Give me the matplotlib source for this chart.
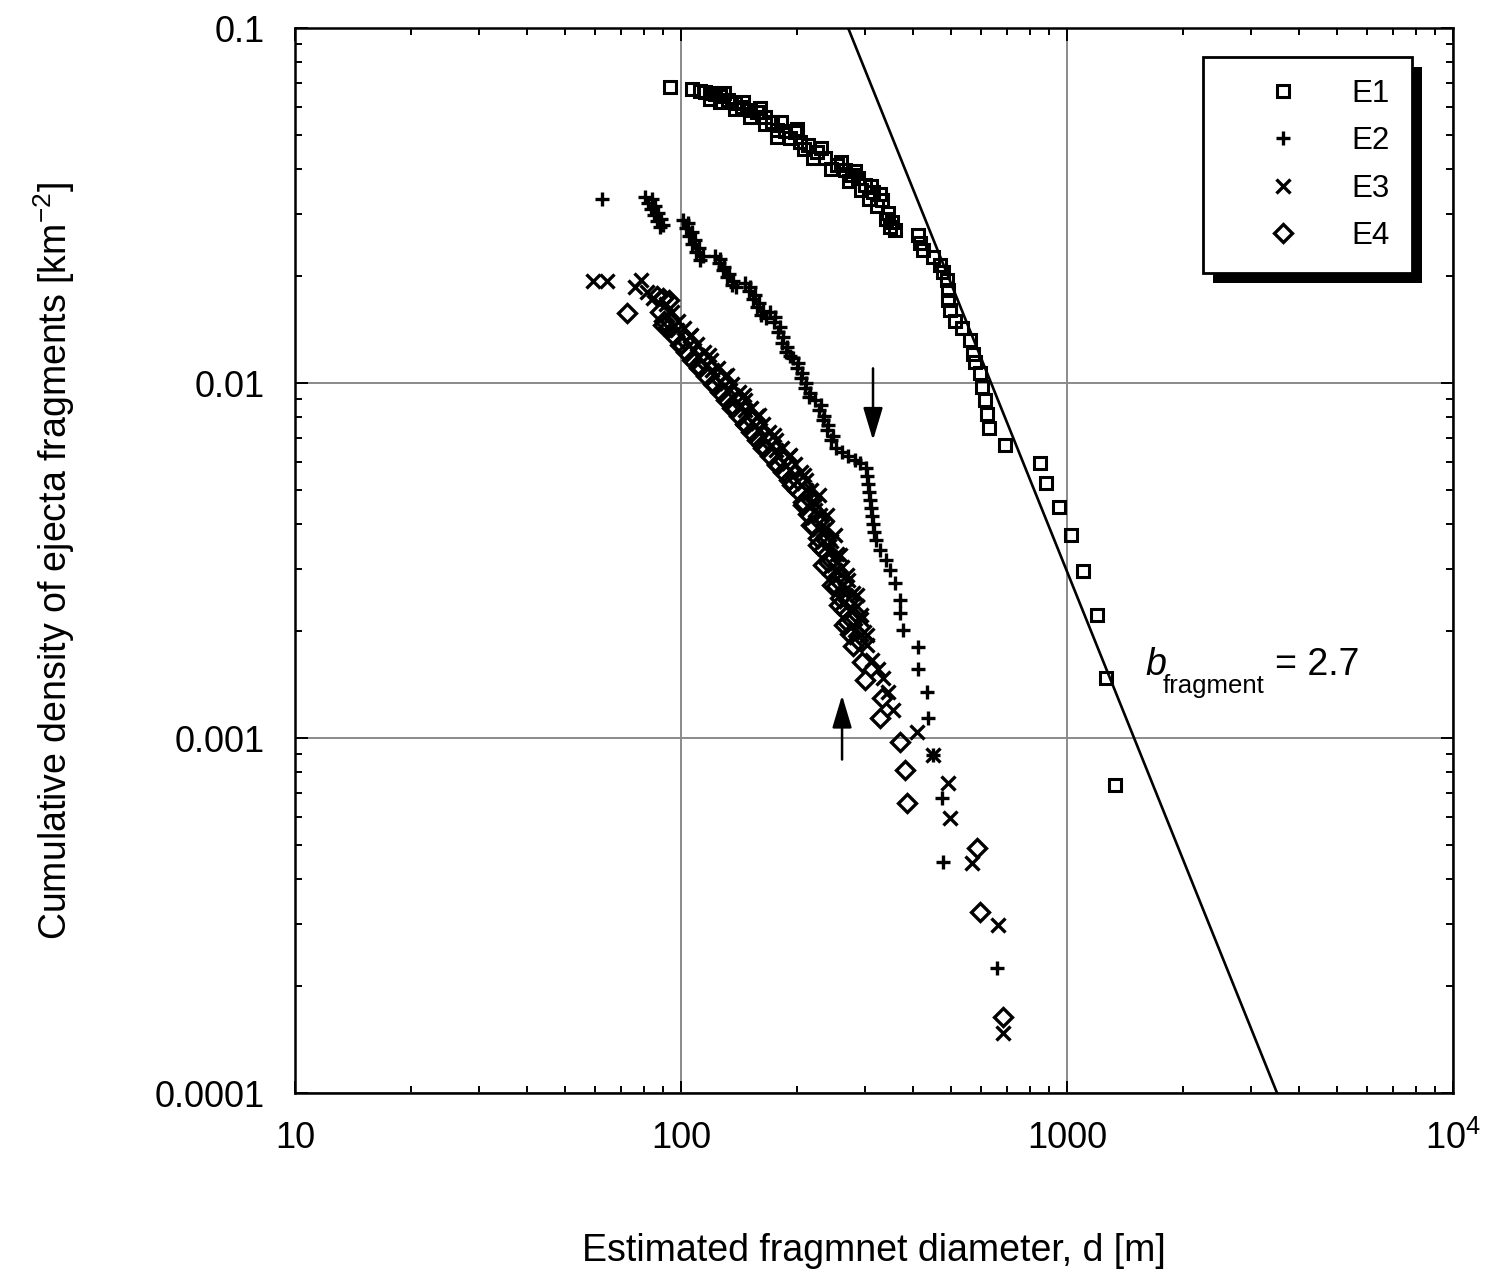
import numpy as np
import matplotlib
matplotlib.use("Agg")
import matplotlib.pyplot as plt
from matplotlib.ticker import LogLocator, NullFormatter
from matplotlib.patches import Rectangle

plt.rcParams['font.family'] = ['Liberation Sans', 'DejaVu Sans']
plt.rcParams['mathtext.fontset'] = 'custom'
plt.rcParams['mathtext.rm'] = 'Liberation Sans'
plt.rcParams['mathtext.it'] = 'Liberation Sans:italic'

# fragment diameter [m] and cumulative density [km^-2] per ejecta field
e1_d = [93.7, 106.8, 112, 115.4, 118.9, 122.5, 126.2, 132.4, 138.0, 143.9,
        151, 157.4, 165.1, 172.1, 177.3, 186, 197.4, 203.4, 213.3, 225.0,
        236.1, 253.6, 266, 277.3, 287.4, 299.7, 314.3, 331.7, 343.8, 352.1,
        358.5, 411.1, 416, 423.7, 449.7, 468.8, 477.3, 489, 491.9, 491.9,
        497.7, 512.8, 534.6, 560.8, 571, 577.9, 595.2, 602.4, 613.3, 620.6,
        628, 690.8, 851, 882.3, 953.5, 1024, 1100, 1196, 1262, 1332,
        118.9, 126.2, 138.0, 151, 165.1, 177.3, 191.6, 208, 220, 245,
        272, 293, 306, 322, 340, 348,
        129, 145, 160, 182, 200, 230, 260, 283, 310, 328]
e1_n = [0.0682, 0.0674, 0.0665, 0.0660, 0.0656, 0.0652, 0.0643, 0.0627, 0.0615, 0.0599,
        0.0588, 0.0580, 0.0561, 0.0543, 0.0516, 0.0513, 0.0509, 0.0477, 0.0468, 0.0447,
        0.0430, 0.0411, 0.0398, 0.0385, 0.0378, 0.0361, 0.0345, 0.0328, 0.0301, 0.0284,
        0.0270, 0.0261, 0.0248, 0.0237, 0.0226, 0.0215, 0.0205, 0.0195, 0.0183, 0.0171,
        0.0161, 0.0150, 0.0143, 0.0132, 0.0121, 0.0115, 0.0107, 0.00974, 0.00896, 0.00818,
        0.00747, 0.00669, 0.00595, 0.00523, 0.00447, 0.00373, 0.00295, 0.00222, 0.00148, 0.000737,
        0.0630, 0.0617, 0.0590, 0.0563, 0.0538, 0.0494, 0.0490, 0.0455, 0.0430, 0.0400,
        0.0370, 0.0350, 0.0330, 0.0315, 0.0290, 0.0275,
        0.0655, 0.0620, 0.0595, 0.0545, 0.0520, 0.0460, 0.0420, 0.0395, 0.0360, 0.0340]

e2_d = [62.4, 80.7, 82.1, 83.6, 85.1, 86.7, 88.2, 101.2, 103.0, 104.9,
        106.8, 109.4, 112, 122.5, 125.4, 128.5, 131.6, 135.6, 146.5, 150.1,
        153.7, 157.4, 161.2, 170.1, 174.2, 178.4, 182.7, 187.1, 195.1, 199.8,
        204.6, 209.5, 214.6, 222.4, 227.8, 233.4, 238.9, 244.7, 252.1, 261.3,
        270.8, 282.3, 290.9, 301.5, 303.3, 305.1, 306.9, 308.8, 310.6, 312.5,
        314.3, 316.2, 320, 327.8, 339.7, 347.9, 358.5, 369.3, 369.3, 375.9,
        411.1, 411.1, 433.8, 436.4, 449.7, 474.5, 477.3, 658.8,
        84.0, 85.5, 87.0, 88.5, 90.0, 104.5, 106.5, 108.5, 111, 114,
        126.5, 129.5, 133, 136.5, 139, 151, 155, 159, 163, 166,
        175.5, 180, 184, 188.5, 191, 201, 206, 211, 216, 230,
        235, 241, 247]
e2_n = [0.0330, 0.0334, 0.0321, 0.0309, 0.0297, 0.0286, 0.0275, 0.02878, 0.0273, 0.0260,
        0.0246, 0.0234, 0.0222, 0.0228, 0.0218, 0.0208, 0.0199, 0.0189, 0.0191, 0.0182,
        0.0172, 0.0164, 0.0155, 0.01585, 0.01485, 0.0139, 0.0130, 0.0122, 0.01176, 0.01102,
        0.01033, 0.00968, 0.00913, 0.00896, 0.00839, 0.00787, 0.00737, 0.00691, 0.00656, 0.00639,
        0.00623, 0.00607, 0.00595, 0.00576, 0.00547, 0.00519, 0.00493, 0.00468, 0.00445, 0.00422,
        0.00401, 0.00380, 0.00361, 0.00338, 0.00317, 0.00297, 0.00273, 0.00245, 0.00225, 0.00201,
        0.00180, 0.00157, 0.00135, 0.00114, 0.000896, 0.000678, 0.000447, 0.000225,
        0.0330, 0.0315, 0.0302, 0.0290, 0.0279, 0.0283, 0.0267, 0.0253, 0.0240, 0.0228,
        0.0223, 0.0212, 0.0203, 0.0194, 0.0186, 0.0186, 0.0177, 0.0168, 0.0160, 0.0152,
        0.0153, 0.0144, 0.0135, 0.0126, 0.0119, 0.0114, 0.0107, 0.0100, 0.0094, 0.0087,
        0.0081, 0.0076, 0.0071]

e3_d = [59.2, 64.3, 76.0, 78.8, 81.7, 84.6, 91.4, 94.8, 98.2, 101.8,
        105.5, 110, 114.7, 119.6, 124.7, 130.0, 135.6, 141.3, 146.5, 151.8,
        157.4, 163.1, 169.0, 176.2, 182.7, 190.5, 197.4, 204.6, 210.8, 217.2,
        221.1, 229.2, 237.5, 244.7, 253.6, 261.3, 270.8, 279, 285.8, 292.7,
        297.9, 303.3, 312.5, 324, 333.8, 343.8, 354.2, 408.7, 449.7, 491.9,
        497.7, 567.6, 662.6, 682.6,
        97.6, 108.1, 120.3, 134, 146.5, 160.2, 176.2, 191.6, 210.8, 222.4,
        233.4, 241.7, 250.6, 266, 274.1, 282.3,
        106.2, 117.9, 131.3, 145.8, 158.9, 174.3, 191.2, 208.5, 227.2, 239,
        250.1, 258.3, 268.5, 285, 292.8, 302.7]
e3_n = [0.0194, 0.0194, 0.0186, 0.0195, 0.0180, 0.0174, 0.0167, 0.01585, 0.0150, 0.0143,
        0.01357, 0.01288, 0.0122, 0.0116, 0.01102, 0.01046, 0.00994, 0.00943, 0.00896, 0.00850,
        0.00807, 0.00766, 0.00728, 0.00691, 0.00656, 0.00623, 0.00591, 0.00561, 0.00533, 0.00500,
        0.00462, 0.00425, 0.00390, 0.00359, 0.00330, 0.00303, 0.00279, 0.00256, 0.00235, 0.00216,
        0.00199, 0.00183, 0.00166, 0.00157, 0.00148, 0.00135, 0.00120, 0.00104, 0.000896, 0.000746,
        0.000595, 0.000444, 0.000297, 0.000148,
        0.0141, 0.0124, 0.0109, 0.00956, 0.00839, 0.00737, 0.00648, 0.00569, 0.00500, 0.00439,
        0.00385, 0.00338, 0.00297, 0.00261, 0.00229, 0.00201,
        0.01365, 0.01199, 0.01053, 0.00925, 0.00813, 0.00714, 0.00627, 0.00551, 0.00484, 0.00425,
        0.00373, 0.00328, 0.00288, 0.00253, 0.00222, 0.00195]

e4_d = [72.5, 86.7, 89.8, 93.1, 88.2, 90.4, 92.5, 95.9, 100, 103.0,
        106.8, 111.3, 116.1, 121, 126.2, 130.9, 135.6, 141.3, 146.5, 151.8,
        157.4, 163.1, 170.1, 177.3, 183.8, 190.5, 199.8, 207, 213.3, 219.8,
        226.4, 233.4, 240.3, 246.2, 252.1, 258.2, 264.4, 269.2, 274.1, 279,
        294.3, 299.7, 331.7, 327.8, 369.3, 380.5, 385, 584.6, 595.2, 682.6,
        93.7, 102.4, 114, 126.9, 140.5, 152.7, 168, 183.8, 201, 217.2,
        227.8, 237.5, 244.7, 255.1, 270.8, 277.3, 287.4,
        89.8, 99.1, 110.4, 122.8, 135.2, 147.3, 162.1, 176.8, 193.9, 207.1,
        217.2, 225.8, 233.3, 245.4, 256.7, 263.7]
e4_n = [0.0158, 0.0176, 0.0174, 0.0171, 0.01585, 0.0150, 0.0143, 0.01357, 0.01288, 0.0122,
        0.0116, 0.01102, 0.01046, 0.00994, 0.00943, 0.00896, 0.00850, 0.00807, 0.00766, 0.00728,
        0.00691, 0.00656, 0.00623, 0.00591, 0.00561, 0.00533, 0.00500, 0.00462, 0.00428, 0.00396,
        0.00366, 0.00338, 0.00313, 0.00290, 0.00268, 0.00248, 0.00229, 0.00212, 0.00196, 0.00182,
        0.00164, 0.00146, 0.00130, 0.00114, 0.000974, 0.000813, 0.000656, 0.000490, 0.000324, 0.000164,
        0.0150, 0.0132, 0.0116, 0.0102, 0.00896, 0.00787, 0.00691, 0.00607, 0.00533, 0.00468,
        0.00411, 0.00361, 0.00317, 0.00279, 0.00245, 0.00215, 0.00189,
        0.01456, 0.01279, 0.01124, 0.00987, 0.00867, 0.00762, 0.00669, 0.00588, 0.00516, 0.00453,
        0.00398, 0.00350, 0.00307, 0.00270, 0.00237, 0.00208]

# power-law fit N = C * d^-b, anchored at d = 3500 m, N = 1e-4
b_fragment = 2.7
fit_anchor_d = 3500.0
fit_anchor_n = 1e-4
fit_d = np.array([271.0, 3500.0])

# arrows marking the knee in E2 and E4
arrow_down = (314.3, 0.0110, 0.0069)
arrow_up = (261.3, 0.00087, 0.00132)

x_ticks = [10, 100, 1000, 10000]
x_ticklabels = ['10', '100', '1000', r'$10^4$']
y_ticks = [1e-4, 1e-3, 1e-2, 1e-1]
y_ticklabels = ['0.0001', '0.001', '0.01', '0.1']

fig = plt.figure(figsize=(14.96, 12.75), dpi=100)
ax = fig.add_axes([0.1972, 0.1427, 0.7741, 0.8353])

ax.set_xscale('log')
ax.set_yscale('log')
ax.set_xlim(10, 1e4)
ax.set_ylim(1e-4, 0.1)

mk = dict(linestyle='none', color='black')
ax.plot(e1_d, e1_n, marker='s', ms=8.5, mew=2.2, mfc='none', label='E1', **mk)
ax.plot(e2_d, e2_n, marker='+', ms=10.5, mew=2.4, label='E2', **mk)
ax.plot(e3_d, e3_n, marker='x', ms=10, mew=2.4, label='E3', **mk)
ax.plot(e4_d, e4_n, marker='D', ms=9, mew=2.4, mfc='none', label='E4', **mk)

fit_n = fit_anchor_n * (fit_d / fit_anchor_d) ** (-b_fragment)
ax.plot(fit_d, fit_n, color='black', lw=1.9)

for xa, y0, y1 in (arrow_down, arrow_up):
    ax.annotate('', xy=(xa, y1), xytext=(xa, y0),
                arrowprops=dict(arrowstyle='-|>,head_length=1.0,head_width=0.3',
                                lw=1.8, color='black', shrinkA=0, shrinkB=0,
                                mutation_scale=20))

ax.text(0.734, 0.3925, 'b', style='italic', fontsize=27, transform=ax.transAxes,
        ha='left', va='baseline')
ax.text(0.7496, 0.3756, 'fragment', fontsize=18.5, transform=ax.transAxes,
        ha='left', va='baseline')
ax.text(0.8463, 0.3925, '= 2.7', fontsize=27, transform=ax.transAxes,
        ha='left', va='baseline')

ax.grid(True, which='major', color='#8a8a8a', lw=1.4)
ax.set_axisbelow(True)

ax.set_xticks(x_ticks)
ax.set_xticklabels(x_ticklabels)
ax.set_yticks(y_ticks)
ax.set_yticklabels(y_ticklabels)
ax.xaxis.set_minor_locator(LogLocator(base=10, subs=np.arange(2, 10)))
ax.yaxis.set_minor_locator(LogLocator(base=10, subs=np.arange(2, 10)))
ax.xaxis.set_minor_formatter(NullFormatter())
ax.yaxis.set_minor_formatter(NullFormatter())
ax.tick_params(which='both', direction='in', top=True, right=True, width=1.4)
ax.tick_params(which='major', length=9, labelsize=26)
ax.tick_params(axis='x', which='major', pad=20)
ax.tick_params(axis='y', which='major', pad=22)
ax.tick_params(which='minor', length=5)
for sp in ax.spines.values():
    sp.set_linewidth(1.8)

ax.set_xlabel('Estimated fragmnet diameter, d [m]', fontsize=27, labelpad=55)
ax.set_ylabel(r'Cumulative density of ejecta fragments [km$^{-2}$]', fontsize=27,
              labelpad=56)

leg = ax.legend(loc='upper right', bbox_to_anchor=(0.9646, 0.9728), fontsize=22.5,
                frameon=True, fancybox=False, edgecolor='black', framealpha=1,
                borderpad=0.7, handlelength=3.7, handletextpad=0.35,
                labelspacing=0.56, borderaxespad=0, numpoints=1)
leg.get_frame().set_linewidth(2)
leg.set_zorder(10)

# solid drop shadow behind the legend box
fig.canvas.draw()
bb = leg.get_window_extent()
(x0, y0), (x1, y1) = ax.transAxes.inverted().transform([[bb.x0, bb.y0], [bb.x1, bb.y1]])
dx, dy = 10 / ax.bbox.width, 10 / ax.bbox.height
ax.add_patch(Rectangle((x0 + dx, y0 - dy), x1 - x0, y1 - y0, transform=ax.transAxes,
                       facecolor='black', edgecolor='none', zorder=9, clip_on=False))

fig.savefig('out.png', dpi=100, facecolor='white')
